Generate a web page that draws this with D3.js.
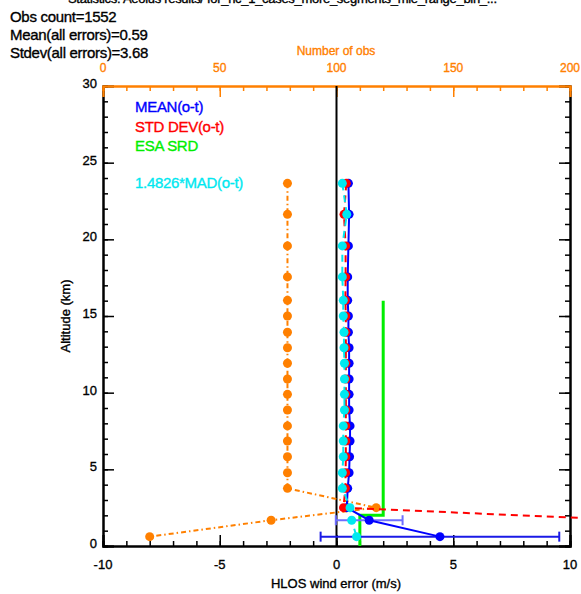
<!DOCTYPE html>
<html>
<head>
<meta charset="utf-8">
<script src="https://cdn.jsdelivr.net/npm/d3@7"></script>
<style>
  body { margin: 0; background: #fff; }
  svg text { font-family: "Liberation Sans", Arial, Helvetica, sans-serif; stroke-width: 0.35px; }
</style>
</head>
<body>
<div id="chart"></div>
<script>
// profile levels (km), top to bottom
var altitude = [23.65, 21.63, 19.57, 17.55, 16.02, 15.0, 13.94, 12.93, 11.92, 10.89,
                9.89, 8.87, 7.83, 6.85, 5.82, 4.78, 3.76, 2.50, 1.68, 0.61];
var meanErr = [0.51, 0.54, 0.51, 0.48, 0.48, 0.51, 0.51, 0.54, 0.54, 0.54,
               0.54, 0.54, 0.58, 0.58, 0.56, 0.54, 0.48, 0.44, 1.40, 4.43];
var stdErr = [0.42, 0.32, 0.39, 0.39, 0.38, 0.40, 0.40, 0.40, 0.40, 0.40,
              0.40, 0.40, 0.40, 0.40, 0.40, 0.39, 0.38, 0.30, 12.7, 15.5];
var madErr = [0.25, 0.44, 0.25, 0.25, 0.29, 0.29, 0.32, 0.32, 0.34, 0.34,
              0.34, 0.34, 0.29, 0.29, 0.29, 0.25, 0.25, 0.58, 0.65, 0.86];
var obsCount = [79, 79, 79, 79, 79, 79, 79, 79, 79, 79,
                79, 79, 79, 79, 79, 79, 79, 117, 72, 20];
// error bars only visible on the two lowest levels
var barAlt = [1.68, 0.61];
var barMean = [1.40, 4.43];
var barHalf = [1.43, 5.11];
var barColor = ["#6e6eff", "#1a1ae6"];
// ESA SRD requirement (step profile)
var srdAlt = [16, 2, 2, 0];
var srdVal = [2, 2, 1, 1];

var statLines = ["Obs count=1552", "Mean(all errors)=0.59", "Stdev(all errors)=3.68"];
var xTicks = [-10, -5, 0, 5, 10];
var yTicks = [0, 5, 10, 15, 20, 25, 30];
var topTicks = [0, 50, 100, 150, 200];

var W = 581, H = 594;
var svg = d3.select("#chart").append("svg").attr("width", W).attr("height", H);

var x = d3.scaleLinear().domain([-10, 10]).range([103, 570]);
var xTop = d3.scaleLinear().domain([0, 200]).range([103, 570]);
var y = d3.scaleLinear().domain([0, 30]).range([546, 86]);

var blue = "#0000ff", red = "#ff0000", green = "#00ee00", cyan = "#00e8f0", orange = "#ff8000";

// title line, cut by the top edge as in the original
svg.append("text").attr("x", 68).attr("y", 3).attr("font-size", 13)
    .attr("letter-spacing", "-0.3").attr("stroke", "#000")
    .text("Statistics: Aeolus results/ for_nc_1_cases_more_segments_mie_range_bin_...");

statLines.forEach(function (t, i) {
    svg.append("text").attr("x", 10).attr("y", 22 + i * 18).attr("font-size", 15)
        .attr("letter-spacing", "-0.3").attr("stroke", "#000").text(t);
});

// axes
var g = svg.append("g");
g.append("g").attr("transform", "translate(0,546)")
    .call(d3.axisBottom(x).tickValues(d3.range(-10, 10.1, 1)).tickSize(-5).tickFormat(""));
g.append("g").attr("transform", "translate(0,546)")
    .call(d3.axisBottom(x).tickValues(xTicks).tickSize(-11).tickFormat(""));
g.append("g").attr("transform", "translate(103,0)")
    .call(d3.axisLeft(y).tickValues(d3.range(0, 30.1, 1)).tickSize(-5).tickFormat(""));
g.append("g").attr("transform", "translate(103,0)")
    .call(d3.axisLeft(y).tickValues(yTicks).tickSize(-11).tickFormat(""));
g.append("g").attr("transform", "translate(570,0)")
    .call(d3.axisRight(y).tickValues(d3.range(0, 30.1, 1)).tickSize(-5).tickFormat(""));
g.append("g").attr("transform", "translate(570,0)")
    .call(d3.axisRight(y).tickValues(yTicks).tickSize(-11).tickFormat(""));
g.selectAll("path.domain").attr("stroke-width", 2);
g.selectAll(".tick line").attr("stroke-width", 1.5);

var topG = svg.append("g").attr("transform", "translate(0,86)");
topG.call(d3.axisTop(xTop).tickValues(d3.range(0, 200.1, 10)).tickSize(-5).tickFormat(""));
topG.append("g").call(d3.axisTop(xTop).tickValues(topTicks).tickSize(-11).tickFormat(""));
topG.selectAll("path.domain").attr("stroke", orange).attr("stroke-width", 2);
topG.selectAll(".tick line").attr("stroke", orange).attr("stroke-width", 1.5);

// tick labels
svg.selectAll(".xlab").data(xTicks).enter().append("text")
    .attr("x", function (d) { return x(d); }).attr("y", 569)
    .attr("text-anchor", "middle").attr("font-size", 13).attr("stroke", "#000")
    .text(function (d) { return d; });
svg.selectAll(".ylab").data(yTicks).enter().append("text")
    .attr("x", 97).attr("y", function (d) { return y(d) + 2; })
    .attr("text-anchor", "end").attr("font-size", 13).attr("stroke", "#000")
    .text(function (d) { return d; });
svg.selectAll(".tlab").data(topTicks).enter().append("text")
    .attr("x", function (d) { return xTop(d); }).attr("y", 72)
    .attr("text-anchor", "middle").attr("font-size", 12).attr("fill", orange).attr("stroke", orange)
    .text(function (d) { return d; });
svg.append("text").attr("x", 336).attr("y", 55).attr("text-anchor", "middle")
    .attr("font-size", 12).attr("fill", orange).attr("stroke", orange).text("Number of obs");
svg.append("text").attr("x", 336).attr("y", 588).attr("text-anchor", "middle")
    .attr("font-size", 13).attr("stroke", "#000").text("HLOS wind error (m/s)");
svg.append("text").attr("transform", "translate(70,316) rotate(-90)")
    .attr("text-anchor", "middle").attr("font-size", 13).attr("stroke", "#000").text("Altitude (km)");

// zero line
svg.append("line").attr("x1", x(0)).attr("x2", x(0)).attr("y1", y(30)).attr("y2", y(0))
    .attr("stroke", "#000").attr("stroke-width", 2);

function profile(vals, sc) {
    return d3.line().x(function (d, i) { return sc(vals[i]); })
        .y(function (d, i) { return y(altitude[i]); })(altitude);
}

// obs counts
svg.append("path").attr("d", profile(obsCount, xTop)).attr("fill", "none")
    .attr("stroke", orange).attr("stroke-width", 2).attr("stroke-dasharray", "5,3,1.5,3");
svg.selectAll(".obs").data(altitude).enter().append("circle")
    .attr("cx", function (d, i) { return xTop(obsCount[i]); }).attr("cy", function (d) { return y(d); })
    .attr("r", 4.5).attr("fill", orange);

// ESA SRD
svg.append("path").attr("d", d3.line().x(function (d, i) { return x(srdVal[i]); })
    .y(function (d) { return y(d); })(srdAlt))
    .attr("fill", "none").attr("stroke", green).attr("stroke-width", 3);

// error bars
barAlt.forEach(function (a, i) {
    var bg = svg.append("g").attr("stroke", barColor[i]).attr("stroke-width", 2);
    bg.append("line").attr("x1", x(barMean[i] - barHalf[i])).attr("x2", x(barMean[i] + barHalf[i]))
        .attr("y1", y(a)).attr("y2", y(a));
    [-1, 1].forEach(function (s) {
        bg.append("line").attr("x1", x(barMean[i] + s * barHalf[i])).attr("x2", x(barMean[i] + s * barHalf[i]))
            .attr("y1", y(a) - 5).attr("y2", y(a) + 5);
    });
});

// mean
svg.append("path").attr("d", profile(meanErr, x)).attr("fill", "none")
    .attr("stroke", blue).attr("stroke-width", 2);
svg.selectAll(".mean").data(altitude).enter().append("circle")
    .attr("cx", function (d, i) { return x(meanErr[i]); }).attr("cy", function (d) { return y(d); })
    .attr("r", 4.5).attr("fill", blue);

// std dev
svg.append("path").attr("d", profile(stdErr, x)).attr("fill", "none")
    .attr("stroke", red).attr("stroke-width", 2).attr("stroke-dasharray", "7,5");
svg.selectAll(".std").data(altitude).enter().append("circle")
    .attr("cx", function (d, i) { return x(stdErr[i]); }).attr("cy", function (d) { return y(d); })
    .attr("r", 4.5).attr("fill", red);

// MAD
svg.append("path").attr("d", profile(madErr, x)).attr("fill", "none")
    .attr("stroke", cyan).attr("stroke-width", 2).attr("stroke-dasharray", "7,5");
svg.selectAll(".mad").data(altitude).enter().append("circle")
    .attr("cx", function (d, i) { return x(madErr[i]); }).attr("cy", function (d) { return y(d); })
    .attr("r", 4.5).attr("fill", cyan);

// legend
var legend = [["MEAN(o-t)", blue, 112], ["STD DEV(o-t)", red, 132], ["ESA SRD", green, 151],
              ["1.4826*MAD(o-t)", cyan, 188]];
legend.forEach(function (l) {
    svg.append("text").attr("x", 135).attr("y", l[2]).attr("font-size", 15)
        .attr("letter-spacing", "-0.3").attr("fill", l[1]).attr("stroke", l[1]).text(l[0]);
});
</script>
</body>
</html>
